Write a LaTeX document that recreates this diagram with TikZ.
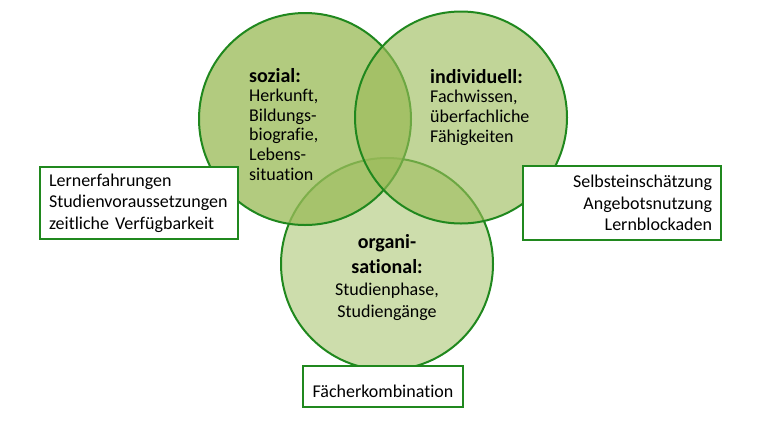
\documentclass[tikz,border=0pt]{standalone}
\usepackage{fontspec}
\setmainfont{Carlito}[Ligatures=NoCommon]
\usepackage{tikz}
\definecolor{mgreen}{RGB}{155, 187, 89}
\definecolor{mline}{RGB}{32, 136, 30}
\tikzset{ring/.style = {circle, draw = mline, line width = 2pt, fill = mgreen, minimum size = 212pt, inner sep = 0}}
\tikzset{circtext/.style = {inner sep = 0, font = \fontsize{18pt}{19.6pt}\selectfont}}
\tikzset{infobox/.style = {draw = mline, line width = 2pt, fill = white, minimum width = 198pt, minimum height = 72pt, inner sep = 0, text width = 180pt, font = \fontsize{18pt}{21.5pt}\selectfont}}
\newcommand{\headfont}{\bfseries\fontsize{20pt}{24pt}\selectfont}

\begin{document}
\begin{tikzpicture}[x=1pt, y=-1pt]
      \useasboundingbox (0, 0) rectangle (759, 424);
      % the three circles
      \node [ring, fill opacity=0.5] (orga) at (387, 264) {};
      \node [ring, fill opacity=0.77] (sozial) at (305, 119) {};
      \node [ring, fill opacity=0.62] (indiv) at (461, 117.5) {};
      % texts, placed at the baseline of their last line
      \node [circtext, align=left, anchor=base west] (sozialtext) at (249, 180)
        {{\headfont sozial:}\\Herkunft,\\Bildungs-\\biografie,\\Lebens-\\situation};
      \node [circtext, align=left, anchor=base west] (indivtext) at (430, 142)
        {{\headfont individuell:}\\Fachwissen,\\überfachliche\\Fähigkeiten};
      \node [circtext, font=\fontsize{18pt}{22pt}\selectfont, align=center, anchor=base] (orgatext) at (387, 317)
        {{\headfont organi-}\\[3pt]{\headfont sational:}\\Studienphase,\\Studiengänge};
      % the boxes
      \node [infobox, align=left] (lbox) at (139, 203)
        {Lernerfahrungen\\Studienvoraussetzungen\\zeitliche Verfügbarkeit};
      \node [infobox, align=right, minimum height=74pt] (rbox) at (622, 203)
        {Selbsteinschätzung\\Angebotsnutzung\\Lernblockaden};
      \node [infobox, align=center, minimum width=160pt, minimum height=41pt, text width=150pt,
        text height=26pt, text depth=5pt] (bbox) at (383, 386.5) {Fächerkombination};
    \end{tikzpicture}
\end{document}
